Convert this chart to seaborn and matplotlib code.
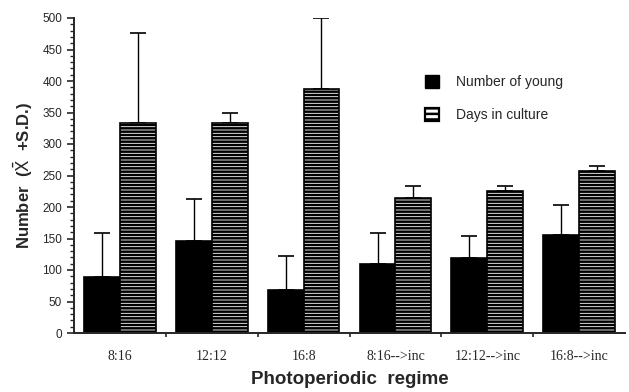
import matplotlib
matplotlib.use("Agg")
import matplotlib.pyplot as plt
from matplotlib.patches import Patch
from matplotlib.ticker import MultipleLocator
import numpy as np
import pandas as pd
import seaborn as sns

regimes = ["8:16", "12:12", "16:8", "8:16-->inc", "12:12-->inc", "16:8-->inc"]
young_mean = [89, 146, 68, 109, 119, 156]
young_sd = [158, 212, 123, 158, 154, 203]   # top of error bar
days_mean = [334, 333, 387, 214, 226, 257]
days_sd = [476, 350, 500, 234, 233, 265]    # top of error bar
series = ["Number of young", "Days in culture"]

df = pd.DataFrame({
    "regime": regimes * 2,
    "series": [series[0]] * 6 + [series[1]] * 6,
    "value": young_mean + days_mean,
    "top": young_sd + days_sd,
})

sns.set_style("ticks")
plt.rcParams["hatch.linewidth"] = 1.8
plt.rcParams["hatch.color"] = "black"

fig = plt.figure(figsize=(6.29, 3.92), dpi=100)
ax = fig.add_axes([74 / 629, 1 - 333 / 392, 551 / 629, 315 / 392])

sns.barplot(data=df, x="regime", y="value", hue="series", order=regimes,
            hue_order=series, palette=["black", "white"], width=0.78,
            errorbar=None, edgecolor="black", linewidth=1.2, ax=ax,
            legend=False)

# hatch the second series and add upper SD bars
n = len(regimes)
for i, p in enumerate(ax.patches[:2 * n]):
    if i >= n:
        p.set_hatch("-----")
    row = df.iloc[i]
    xc = p.get_x() + p.get_width() / 2
    ax.errorbar([xc], [row["value"]], yerr=[[0], [row["top"] - row["value"]]],
                fmt="none", ecolor="black", elinewidth=1.0, capsize=6,
                capthick=1.2, zorder=0)

ax.set_ylim(0, 500)
ax.set_xlim(-0.5, n - 0.5)
ax.yaxis.set_major_locator(MultipleLocator(50))
ax.yaxis.set_minor_locator(MultipleLocator(10))
ax.tick_params(axis="y", which="major", length=5, width=1.2, labelsize=8.5)
ax.tick_params(axis="y", which="minor", length=3, width=1)
ax.set_xticks(np.arange(n))
ax.set_xticklabels(regimes, family="Liberation Serif", fontsize=10)
ax.tick_params(axis="x", which="major", length=0, pad=12)
ax.set_xticks(np.arange(n - 1) + 0.5, minor=True)
ax.tick_params(axis="x", which="minor", length=3, width=1.2)
for lab in ax.get_yticklabels():
    lab.set_family("Liberation Sans")

sns.despine(ax=ax)
ax.spines["left"].set_linewidth(1.4)
ax.spines["bottom"].set_linewidth(1.4)

ax.set_xlabel("Photoperiodic  regime", family="Liberation Sans",
              fontweight="bold", fontsize=13.5, labelpad=6)
ax.set_ylabel(r"Number  ($\bar{\mathrm{X}}$  +S.D.)", family="Liberation Sans",
              fontweight="bold", fontsize=12, labelpad=5)

handles = [Patch(facecolor="black", edgecolor="black"),
           Patch(facecolor="white", edgecolor="black", hatch="---", linewidth=1.6)]
ax.legend(handles, series, loc="upper left", bbox_to_anchor=(0.615, 0.86),
          frameon=False, handlelength=1.0, handleheight=1.1, handletextpad=1.2,
          labelspacing=1.35, prop={"family": "Liberation Sans", "size": 10})

fig.savefig("out.png", dpi=100)
